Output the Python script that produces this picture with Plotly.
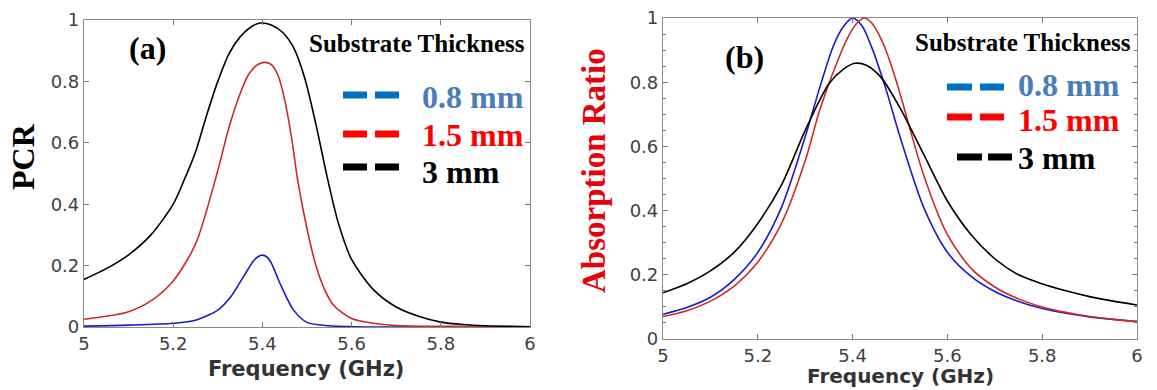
import plotly.graph_objects as go

W, H = 1157, 390

# ---------------- data: panel (a) PCR ----------------
a_freq_08 = [5.00, 5.10, 5.20, 5.25, 5.30, 5.33, 5.36, 5.38, 5.39, 5.40, 5.41, 5.42, 5.44, 5.47, 5.50, 5.55, 5.60, 5.80, 6.00]
a_pcr_08 = [0.003, 0.006, 0.012, 0.022, 0.055, 0.10, 0.17, 0.215, 0.229, 0.234, 0.228, 0.208, 0.14, 0.055, 0.015, 0.004, 0.001, 0.0, 0.0]

a_freq_15 = [5.00, 5.05, 5.10, 5.15, 5.20, 5.25, 5.30, 5.325, 5.35, 5.37, 5.39, 5.405, 5.42, 5.435, 5.45, 5.465, 5.48, 5.50, 5.52, 5.54, 5.56, 5.60, 5.65, 5.70, 5.80, 6.00]
a_pcr_15 = [0.025, 0.035, 0.05, 0.085, 0.15, 0.27, 0.51, 0.65, 0.76, 0.825, 0.855, 0.862, 0.855, 0.82, 0.74, 0.62, 0.47, 0.32, 0.20, 0.12, 0.07, 0.028, 0.012, 0.005, 0.002, 0.001]

a_freq_3 = [5.00, 5.05, 5.10, 5.15, 5.20, 5.225, 5.25, 5.275, 5.30, 5.325, 5.35, 5.375, 5.395, 5.42, 5.445, 5.47, 5.495, 5.52, 5.545, 5.57, 5.60, 5.65, 5.70, 5.75, 5.80, 5.85, 5.90, 6.00]
a_pcr_3 = [0.155, 0.19, 0.235, 0.30, 0.40, 0.48, 0.57, 0.69, 0.80, 0.89, 0.945, 0.978, 0.99, 0.984, 0.96, 0.91, 0.81, 0.66, 0.49, 0.34, 0.22, 0.12, 0.065, 0.035, 0.016, 0.008, 0.004, 0.001]

# ---------------- data: panel (b) Absorption ratio ----------------
b_freq_08 = [5.00, 5.05, 5.10, 5.15, 5.20, 5.25, 5.30, 5.33, 5.36, 5.38, 5.40, 5.42, 5.44, 5.47, 5.50, 5.55, 5.60, 5.65, 5.70, 5.75, 5.80, 5.85, 5.90, 5.95, 6.00]
b_abs_08 = [0.077, 0.098, 0.13, 0.185, 0.27, 0.41, 0.63, 0.78, 0.915, 0.972, 1.0, 0.975, 0.91, 0.78, 0.63, 0.41, 0.27, 0.195, 0.148, 0.117, 0.095, 0.08, 0.069, 0.061, 0.054]

b_freq_15 = [5.00, 5.05, 5.10, 5.15, 5.20, 5.25, 5.30, 5.33, 5.36, 5.39, 5.41, 5.425, 5.44, 5.46, 5.48, 5.50, 5.55, 5.60, 5.65, 5.70, 5.75, 5.80, 5.85, 5.90, 5.95, 6.00]
b_abs_15 = [0.07, 0.088, 0.118, 0.165, 0.24, 0.36, 0.555, 0.71, 0.835, 0.94, 0.985, 1.0, 0.985, 0.935, 0.86, 0.765, 0.51, 0.325, 0.22, 0.162, 0.125, 0.10, 0.083, 0.07, 0.061, 0.054]

b_freq_3 = [5.00, 5.05, 5.10, 5.15, 5.20, 5.25, 5.30, 5.35, 5.38, 5.405, 5.43, 5.46, 5.50, 5.55, 5.60, 5.65, 5.70, 5.75, 5.80, 5.85, 5.90, 5.95, 6.00]
b_abs_3 = [0.144, 0.172, 0.212, 0.27, 0.36, 0.48, 0.65, 0.795, 0.84, 0.859, 0.852, 0.815, 0.72, 0.575, 0.43, 0.325, 0.25, 0.20, 0.172, 0.15, 0.132, 0.118, 0.106]

x_ticks = [5, 5.2, 5.4, 5.6, 5.8, 6]
x_ticklabels = ["5", "5.2", "5.4", "5.6", "5.8", "6"]
y_ticks = [0, 0.2, 0.4, 0.6, 0.8, 1]
y_ticklabels = ["0", "0.2", "0.4", "0.6", "0.8", "1"]

legend_labels = ["0.8 mm", "1.5 mm", "3 mm"]
legend_text_colors = ["#4a7ebb", "#ff0000", "#000000"]
legend_dash_colors = ["#0070c0", "#ff0000", "#000000"]
line_colors = ["#1a1ac8", "#cc2a2a", "#000000"]

SERIF = "Liberation Serif"
SANS = "DejaVu Sans"


def px(x):
    return x / W


def py(y):
    return 1 - y / H


fig = go.Figure()

series_a = [(a_freq_08, a_pcr_08), (a_freq_15, a_pcr_15), (a_freq_3, a_pcr_3)]
series_b = [(b_freq_08, b_abs_08), (b_freq_15, b_abs_15), (b_freq_3, b_abs_3)]

for (xs, ys), c, name in zip(series_a, line_colors, legend_labels):
    fig.add_trace(go.Scatter(x=xs, y=ys, mode="lines", name=name, showlegend=False,
                             line=dict(color=c, width=1.6, shape="spline", smoothing=0.8),
                             xaxis="x", yaxis="y"))
for (xs, ys), c, name in zip(series_b, line_colors, legend_labels):
    fig.add_trace(go.Scatter(x=xs, y=ys, mode="lines", name=name, showlegend=False,
                             line=dict(color=c, width=1.6, shape="spline", smoothing=0.8),
                             xaxis="x2", yaxis="y2"))

axis_common = dict(
    showline=True, linecolor="#8a8a8a", linewidth=1.2, mirror="ticks",
    ticks="inside", ticklen=5, tickcolor="#777", tickwidth=1,
    showgrid=False, zeroline=False, automargin=False,
    tickfont=dict(family=SANS, size=18, color="#404040"),
)

fig.update_layout(
    width=W, height=H,
    margin=dict(l=0, r=0, t=0, b=0),
    paper_bgcolor="white", plot_bgcolor="white",
    xaxis=dict(domain=[px(84), px(530)], range=[5, 6], tickvals=x_ticks, ticktext=x_ticklabels,
               anchor="y", **axis_common),
    yaxis=dict(domain=[py(327), py(20)], range=[0, 1], tickvals=y_ticks, ticktext=y_ticklabels,
               anchor="x", **axis_common),
    xaxis2=dict(domain=[px(663), px(1137)], range=[5, 6], tickvals=x_ticks, ticktext=x_ticklabels,
                anchor="y2", **axis_common),
    yaxis2=dict(domain=[py(339), py(18)], range=[0, 1], tickvals=y_ticks, ticktext=y_ticklabels,
                anchor="x2", minor=dict(dtick=0.05, ticks="inside", ticklen=3, tickcolor="#777"),
                **axis_common),
)

ann = []


def text(x, y, s, size, color="#000", family=SERIF, bold=True, xanchor="center", angle=0):
    ann.append(dict(x=px(x), y=py(y), xref="paper", yref="paper", text=(f"<b>{s}</b>" if bold else s),
                    showarrow=False, xanchor=xanchor, yanchor="middle", textangle=angle,
                    font=dict(family=family, size=size, color=color)))


# axis titles
text(306, 369, "Frequency (GHz)", 21, color="#333333", family=SANS)
text(900, 376, "Frequency (GHz)", 20, color="#333333", family=SANS)
text(23, 157, "PCR", 32, angle=-90)
text(594, 171, "Absorption Ratio", 33, color="#e8000b", angle=-90)

# panel labels
text(147, 48, "(a)", 32)
text(744, 57, "(b)", 32)

# legend titles
text(417, 43, "Substrate Thickness", 25)
text(1023, 42, "Substrate Thickness", 25)

# left legend
left_rows = [(95, 97), (134, 135), (167, 172)]
for (dy, ty), lab, tc, dc in zip(left_rows, legend_labels, legend_text_colors, legend_dash_colors):
    for x0, x1 in [(343, 367), (375, 399)]:
        fig.add_shape(type="line", xref="paper", yref="paper", x0=px(x0), x1=px(x1), y0=py(dy), y1=py(dy),
                      line=dict(color=dc, width=7))
    text(420, ty, lab, 32, color=tc, xanchor="left")

# right legend
right_rows = [(87, 85, [(947, 972), (980, 1004)]),
              (117, 120, [(947, 972), (980, 1004)]),
              (157, 158, [(957, 982), (988, 1012)])]
for (dy, ty, segs), lab, tc, dc in zip(right_rows, legend_labels, legend_text_colors, legend_dash_colors):
    for x0, x1 in segs:
        fig.add_shape(type="line", xref="paper", yref="paper", x0=px(x0), x1=px(x1), y0=py(dy), y1=py(dy),
                      line=dict(color=dc, width=7))
    text(1016, ty, lab, 32, color=tc, xanchor="left")

fig.update_layout(annotations=ann)

fig.write_html("out.html", config={"displayModeBar": False},
               post_script="document.body.style.margin='0';document.body.style.overflow='hidden';")
